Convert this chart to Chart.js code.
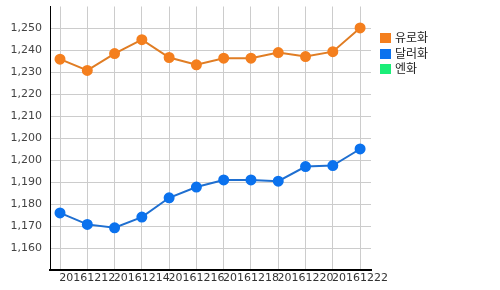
<!DOCTYPE html>
<html>
<head>
<meta charset="utf-8">
<script src="https://cdn.jsdelivr.net/npm/chart.js@4"></script>
<style>
  html, body { margin: 0; padding: 0; background: #fff; }
  #wrap { position: relative; width: 500px; height: 290px; }
  #legend { position: absolute; left: 380px; top: 29px; font: 12px 'Noto Sans CJK KR', sans-serif; color: #222; }
  #legend div { height: 15.5px; line-height: 15px; white-space: nowrap; }
  #legend span { display: inline-block; width: 11px; height: 10px; margin-right: 4px; vertical-align: -1px; }
</style>
</head>
<body>
<div id="wrap">
  <canvas id="chart" width="500" height="290"></canvas>
  <div id="legend"></div>
</div>
<script>
// 날짜 (x축)
const dates = ['20161211', '20161212', '20161213', '20161214', '20161215', '20161216',
               '20161217', '20161218', '20161219', '20161220', '20161221', '20161222'];

// 환율
const euro = [1237.4, 1232.8, 1239.7, 1245.4, 1238.1, 1235.1, 1237.8, 1237.8, 1240.1, 1238.5, 1240.5, 1250.2];
const dollar = [1174.4, 1169.7, 1168.3, 1172.7, 1180.6, 1185.0, 1187.9, 1187.9, 1187.4, 1193.4, 1193.8, 1200.6];
const yen = [];

const seriesNames = ['유로화', '달러화', '엔화'];
const seriesColors = ['#f47f1e', '#0b72ee', '#1aee78'];
const lineColors = ['#e07d24', '#1f6fd0', '#1aee78'];

// y축 눈금 (원본 차트처럼 반올림된 라벨)
const yTicks = [1160, 1169, 1178, 1187, 1196, 1205, 1214, 1223, 1232, 1241, 1250];
const yTickLabels = ['1,160', '1,170', '1,180', '1,190', '1,200', '1,200', '1,210', '1,220', '1,230', '1,240', '1,250'];

function toPoints(values) {
    return values.map((v, i) => ({ x: i, y: v }));
}

const datasets = [euro, dollar, yen].map((values, i) => ({
    label: seriesNames[i],
    data: toPoints(values),
    borderColor: lineColors[i],
    backgroundColor: seriesColors[i],
    pointBackgroundColor: seriesColors[i],
    pointBorderColor: seriesColors[i],
    borderWidth: 2,
    pointRadius: 4.5,
    pointHoverRadius: 4.5,
    tension: 0
}));

new Chart(document.getElementById('chart').getContext('2d'), {
    type: 'line',
    data: { datasets },
    options: {
        responsive: false,
        animation: false,
        layout: { padding: { left: 0, right: 129, top: 0, bottom: 0 } },
        plugins: { legend: { display: false }, tooltip: { enabled: false } },
        scales: {
            x: {
                type: 'linear',
                min: -0.367,
                max: 11.4,
                afterBuildTicks: scale => {
                    scale.ticks = dates.map((_, i) => ({ value: i }));
                },
                afterFit: scale => {
                    scale.height = 20;
                    scale.paddingLeft = 0;
                    scale.paddingRight = 0;
                },
                grid: { color: '#cccccc', drawTicks: false },
                border: { color: '#000', width: 2 },
                ticks: {
                    autoSkip: false,
                    maxRotation: 0,
                    padding: 2,
                    color: '#333',
                    font: { family: 'DejaVu Sans', size: 11 },
                    callback: value => (value % 2 === 1 ? dates[value] : '')
                }
            },
            y: {
                min: 1151,
                max: 1259,
                afterBuildTicks: scale => {
                    scale.ticks = yTicks.map(v => ({ value: v }));
                },
                afterFit: scale => {
                    scale.width = 50;
                    scale.paddingTop = 0;
                    scale.paddingBottom = 0;
                },
                grid: { color: '#cccccc', drawTicks: false },
                border: { color: '#000', width: 1 },
                ticks: {
                    padding: 8,
                    color: '#444',
                    font: { family: 'DejaVu Sans', size: 11 },
                    callback: (value, index) => yTickLabels[index]
                }
            }
        }
    }
});

// 범례
const legend = document.getElementById('legend');
seriesNames.forEach((name, i) => {
    const row = document.createElement('div');
    row.innerHTML = `<span style="background:${seriesColors[i]}"></span>${name}`;
    legend.appendChild(row);
});
</script>
</body>
</html>
